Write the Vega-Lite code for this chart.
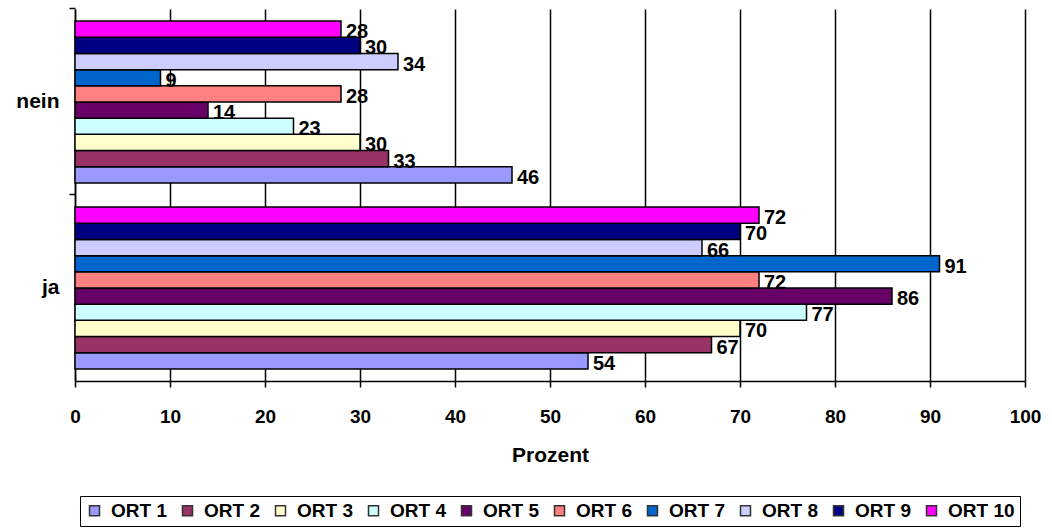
{
  "$schema": "https://vega.github.io/schema/vega-lite/v6.json",
  "autosize": {"type": "none"},
  "padding": {"left": 75, "top": 9, "right": 27, "bottom": 149},
  "width": 950,
  "height": 372,
  "background": "white",
  "config": {
    "font": "Liberation Sans",
    "view": {"stroke": null},
    "axis": {"labelFont": "Liberation Sans", "labelFontWeight": "bold", "labelFontSize": 19, "labelColor": "black", "titleFont": "Liberation Sans", "titleFontWeight": "bold", "titleFontSize": 21, "titleColor": "black", "domainColor": "black", "tickColor": "black", "domainWidth": 1.5, "tickWidth": 1.5},
    "legend": {"layout": {"bottom": {"anchor": "middle"}}}
  },
  "data": {
    "values": [
      {"answer": "nein", "ort": "ORT 1", "value": 46},
      {"answer": "nein", "ort": "ORT 2", "value": 33},
      {"answer": "nein", "ort": "ORT 3", "value": 30},
      {"answer": "nein", "ort": "ORT 4", "value": 23},
      {"answer": "nein", "ort": "ORT 5", "value": 14},
      {"answer": "nein", "ort": "ORT 6", "value": 28},
      {"answer": "nein", "ort": "ORT 7", "value": 9},
      {"answer": "nein", "ort": "ORT 8", "value": 34},
      {"answer": "nein", "ort": "ORT 9", "value": 30},
      {"answer": "nein", "ort": "ORT 10", "value": 28},
      {"answer": "ja", "ort": "ORT 1", "value": 54},
      {"answer": "ja", "ort": "ORT 2", "value": 67},
      {"answer": "ja", "ort": "ORT 3", "value": 70},
      {"answer": "ja", "ort": "ORT 4", "value": 77},
      {"answer": "ja", "ort": "ORT 5", "value": 86},
      {"answer": "ja", "ort": "ORT 6", "value": 72},
      {"answer": "ja", "ort": "ORT 7", "value": 91},
      {"answer": "ja", "ort": "ORT 8", "value": 66},
      {"answer": "ja", "ort": "ORT 9", "value": 70},
      {"answer": "ja", "ort": "ORT 10", "value": 72}
    ]
  },
  "encoding": {
    "y": {
      "field": "answer", "type": "nominal", "sort": ["nein", "ja"],
      "scale": {"paddingInner": 0.13, "paddingOuter": 0.065},
      "axis": {"title": null, "labelPadding": 10, "tickSize": 6, "bandPosition": -0.075, "labelAngle": 0, "labelFontSize": 21}
    },
    "yOffset": {
      "field": "ort", "type": "nominal",
      "sort": ["ORT 10", "ORT 9", "ORT 8", "ORT 7", "ORT 6", "ORT 5", "ORT 4", "ORT 3", "ORT 2", "ORT 1"],
      "scale": {"paddingInner": 0, "paddingOuter": 0}
    },
    "x": {
      "field": "value", "type": "quantitative",
      "scale": {"domain": [0, 100], "nice": false},
      "axis": {
        "title": "Prozent", "values": [0, 10, 20, 30, 40, 50, 60, 70, 80, 90, 100],
        "grid": true, "gridColor": "black",
        "gridWidth": 1.5, "tickSize": 6, "labelPadding": 20, "titlePadding": 18, "labelFlush": false
      }
    }
  },
  "layer": [
    {
      "mark": {"type": "bar", "stroke": "black", "strokeWidth": 1.5},
      "encoding": {
        "color": {
          "field": "ort", "type": "nominal",
          "scale": {
            "domain": ["ORT 1", "ORT 2", "ORT 3", "ORT 4", "ORT 5", "ORT 6", "ORT 7", "ORT 8", "ORT 9", "ORT 10"],
            "range": ["#9999FF", "#993366", "#FFFFCC", "#CCFFFF", "#660066", "#FF8080", "#0066CC", "#CCCCFF", "#000080", "#FF00FF"]
          },
          "legend": {
            "title": null, "orient": "bottom", "direction": "horizontal", "columns": 10,
            "offset": 31, "strokeColor": "black", "padding": 5,
            "symbolType": "square", "symbolSize": 100, "symbolStrokeColor": "#333333", "symbolStrokeWidth": 1.5,
            "labelFont": "Liberation Sans", "labelFontWeight": "bold", "labelFontSize": 19, "labelColor": "black",
            "labelOffset": 7, "columnPadding": 11, "labelLimit": 200
          }
        }
      }
    },
    {
      "mark": {"type": "text", "align": "left", "baseline": "middle", "dx": 5, "dy": 3, "font": "Liberation Sans", "fontWeight": "bold", "fontSize": 20, "color": "black"},
      "encoding": {"text": {"field": "value", "type": "quantitative"}}
    }
  ]
}
